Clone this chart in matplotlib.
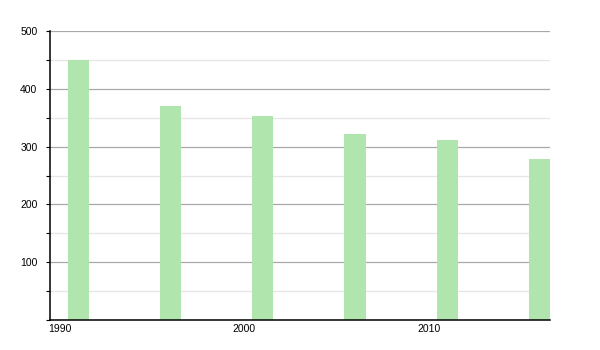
import matplotlib
matplotlib.use("Agg")
import matplotlib.pyplot as plt
from matplotlib.ticker import MultipleLocator

# data
years = [1991, 1996, 2001, 2006, 2011, 2016]
values = [450, 371, 353, 321, 312, 279]
xticks = [1990, 2000, 2010]

plt.rcParams['font.family'] = ['Liberation Sans', 'DejaVu Sans']

fig = plt.figure(figsize=(6, 3.5), dpi=100)
ax = fig.add_axes([50/600, 30/350, 500/600, 289/350])

ax.bar(years, values, width=1.15, color='#b0e5ae', zorder=2)

ax.set_xlim(1989.45, 2016.58)
ax.set_ylim(0, 500)
ax.set_xticks(xticks)
ax.set_xticklabels([str(t) for t in xticks])
ax.yaxis.set_major_locator(MultipleLocator(100))
ax.yaxis.set_minor_locator(MultipleLocator(50))
ax.set_yticks([100, 200, 300, 400, 500])

ax.set_axisbelow(True)
ax.grid(axis='y', which='major', color='#a8a8a8', linewidth=0.9)
ax.grid(axis='y', which='minor', color='#e6e6e6', linewidth=0.9)

for s in ['top', 'right']:
    ax.spines[s].set_visible(False)
ax.spines['left'].set_linewidth(1.1)
ax.spines['bottom'].set_linewidth(1.1)

ax.tick_params(axis='y', which='both', length=3, width=0.8, labelsize=7.5, pad=6)
ax.tick_params(axis='x', length=0, labelsize=7.5, pad=3)

fig.savefig('out.png', dpi=100)
